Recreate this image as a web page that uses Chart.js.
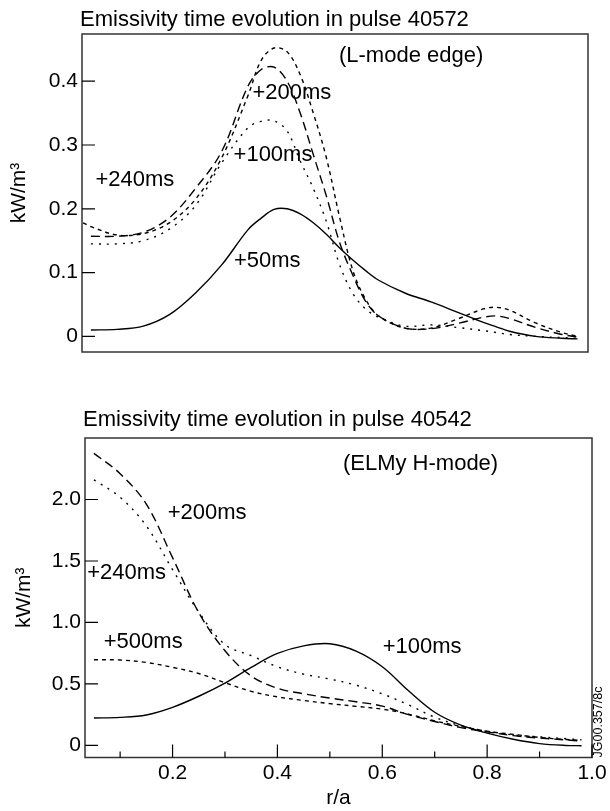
<!DOCTYPE html>
<html>
<head>
<meta charset="utf-8">
<script src="https://cdn.jsdelivr.net/npm/chart.js@4.4.0/dist/chart.umd.min.js"></script>
<style>
  html, body { margin: 0; padding: 0; background: #fff; }
  .panel { position: absolute; left: 0; width: 610px; }
  #topPanel { top: 0; height: 380px; }
  #bottomPanel { top: 400px; height: 411px; }
</style>
</head>
<body>
<div class="panel" id="topPanel"><canvas id="chartTop" width="610" height="380"></canvas></div>
<div class="panel" id="bottomPanel"><canvas id="chartBottom" width="610" height="411"></canvas></div>
<script>
// r/a grid and emissivity (kW/m3)

// pulse 40572, L-mode edge
const rTop = [0.035, 0.05, 0.10, 0.15, 0.20, 0.25, 0.30, 0.35, 0.375, 0.40, 0.425, 0.45, 0.475, 0.50,
  0.525, 0.55, 0.575, 0.60, 0.65, 0.70, 0.75, 0.80, 0.825, 0.85, 0.90, 0.95, 0.98];
const top50ms = [null, 0.010, 0.011, 0.016, 0.034, 0.068, 0.112, 0.167, 0.185, 0.199, 0.200, 0.192, 0.178, 0.160,
  0.139, 0.120, 0.103, 0.088, 0.068, 0.054, 0.038, 0.022, 0.015, 0.008, 0.000, -0.003, -0.004];
const topShortDash = [0.178, 0.172, 0.159, 0.161, 0.178, 0.215, 0.280, 0.377, 0.432, 0.452, 0.446, 0.410, 0.350, 0.280,
  0.188, 0.105, 0.058, 0.032, 0.013, 0.013, 0.027, 0.043, 0.0455, 0.041, 0.021, 0.006, 0.000];
const topLongDash = [null, 0.157, 0.157, 0.163, 0.186, 0.232, 0.290, 0.392, 0.418, 0.422, 0.400, 0.350, 0.285, 0.220,
  0.148, 0.097, 0.055, 0.032, 0.013, 0.012, 0.020, 0.030, 0.032, 0.028, 0.014, 0.003, -0.001];
const topDotted = [null, 0.145, 0.145, 0.150, 0.168, 0.205, 0.272, 0.327, 0.337, 0.338, 0.322, 0.275, 0.232, 0.180,
  0.113, 0.068, 0.043, 0.030, 0.016, 0.018, 0.014, 0.009, 0.006, 0.003, 0.000, -0.002, -0.003];
const yTicksTop = [0, 0.1, 0.2, 0.3, 0.4];
const yTickLabelsTop = ['0', '0.1', '0.2', '0.3', '0.4'];

// pulse 40542, ELMy H-mode
const rBottom = [0.05, 0.10, 0.15, 0.20, 0.25, 0.30, 0.35, 0.40, 0.45, 0.50, 0.55, 0.60, 0.65, 0.70,
  0.75, 0.80, 0.85, 0.90, 0.95, 0.98];
const bot100ms = [0.223, 0.228, 0.248, 0.310, 0.400, 0.507, 0.635, 0.748, 0.810, 0.827, 0.767, 0.640, 0.445, 0.270,
  0.165, 0.100, 0.050, 0.015, 0.000, -0.002];
const bot200ms = [2.375, 2.210, 1.962, 1.527, 1.080, 0.770, 0.565, 0.465, 0.420, 0.385, 0.355, 0.320, 0.250, 0.195,
  0.145, 0.110, 0.080, 0.060, 0.045, 0.035];
const bot240ms = [2.160, 2.018, 1.785, 1.430, 1.085, 0.820, 0.730, 0.640, 0.580, 0.540, 0.490, 0.420, 0.330, 0.230,
  0.160, 0.115, 0.085, 0.070, 0.055, 0.045];
const bot500ms = [0.697, 0.695, 0.675, 0.635, 0.585, 0.510, 0.440, 0.395, 0.366, 0.340, 0.318, 0.295, 0.255, 0.200,
  0.155, 0.115, 0.090, 0.065, 0.048, 0.040];
const yTicksBottom = [0, 0.5, 1.0, 1.5, 2.0];
const yTickLabelsBottom = ['0', '0.5', '1.0', '1.5', '2.0'];
const xTicks = [0.2, 0.4, 0.6, 0.8, 1.0];
const xTickLabels = ['0.2', '0.4', '0.6', '0.8', '1.0'];
const xMinorTicks = [0.1, 0.3, 0.5, 0.7, 0.9];

const X_MIN = 0.033;
const X_MAX = 1.0;
const FONT = "'Liberation Sans', Arial, sans-serif";

// text placed in data units
const notesTop = [
  { text: '(L-mode edge)', r: 0.662, v: 0.440 },
  { text: '+200ms', r: 0.434, v: 0.381 },
  { text: '+100ms', r: 0.398, v: 0.285 },
  { text: '+240ms', r: 0.134, v: 0.2445 },
  { text: '+50ms', r: 0.387, v: 0.1176 },
];
const notesBottom = [
  { text: '(ELMy H-mode)', r: 0.673, v: 2.29 },
  { text: '+200ms', r: 0.266, v: 1.889 },
  { text: '+240ms', r: 0.1125, v: 1.402 },
  { text: '+500ms', r: 0.144, v: 0.841 },
  { text: '+100ms', r: 0.676, v: 0.805 },
];

function pts(xs, ys) {
  return xs.map((x, i) => ({ x, y: ys[i] }));
}

function line(xs, ys, dash) {
  return {
    data: pts(xs, ys),
    borderColor: '#000',
    borderWidth: 1.4,
    borderDash: dash,
    pointRadius: 0,
    tension: 0.35,
    fill: false,
  };
}

// frame, inward tick marks, panel title and labels
function decorPlugin(cfg) {
  return {
    id: 'decor',
    afterDraw(chart) {
      const { ctx, chartArea: a, scales } = chart;
      ctx.save();
      ctx.strokeStyle = '#333';
      ctx.lineWidth = 1.5;
      ctx.strokeRect(a.left, a.top, a.right - a.left, a.bottom - a.top);

      ctx.lineWidth = 1.2;
      ctx.strokeStyle = '#000';
      ctx.beginPath();
      cfg.yTicks.forEach((v) => {
        const y = scales.y.getPixelForValue(v);
        ctx.moveTo(a.left, y);
        ctx.lineTo(a.left + 13, y);
      });
      if (cfg.xTicks) {
        cfg.xTicks.forEach((v) => {
          const x = scales.x.getPixelForValue(v);
          ctx.moveTo(x, a.bottom);
          ctx.lineTo(x, a.bottom - 13);
        });
        cfg.xMinor.forEach((v) => {
          const x = scales.x.getPixelForValue(v);
          ctx.moveTo(x, a.bottom);
          ctx.lineTo(x, a.bottom - 6);
        });
      }
      ctx.stroke();

      ctx.fillStyle = '#000';
      ctx.font = '22px ' + FONT;
      ctx.textBaseline = 'middle';
      ctx.textAlign = 'left';
      ctx.fillText(cfg.title, a.left + cfg.titleDx, a.top + cfg.titleDy);

      ctx.textAlign = 'center';
      cfg.notes.forEach((n) => {
        ctx.fillText(n.text, scales.x.getPixelForValue(n.r), scales.y.getPixelForValue(n.v));
      });

      if (cfg.stamp) {
        ctx.font = '12.5px ' + FONT;
        ctx.translate(a.right + 7, a.bottom - 35.5);
        ctx.rotate(-Math.PI / 2);
        ctx.fillText(cfg.stamp, 0, 0);
      }
      ctx.restore();
    },
  };
}

function yScale(min, max, ticks, labels, width, titlePad) {
  return {
    type: 'linear',
    min,
    max,
    afterFit: (s) => { s.width = width; },
    afterBuildTicks: (s) => { s.ticks = ticks.map((v) => ({ value: v })); },
    grid: { display: false, drawTicks: false },
    border: { display: false },
    ticks: {
      padding: 4,
      color: '#000',
      font: { family: FONT, size: 21 },
      callback: (v, i) => labels[i],
    },
    title: {
      display: true,
      text: 'kW/m³',
      color: '#000',
      font: { family: FONT, size: 21 },
      padding: { top: titlePad, bottom: 0 },
    },
  };
}

new Chart(document.getElementById('chartTop'), {
  type: 'line',
  data: {
    datasets: [
      line(rTop, top50ms, []),
      line(rTop, topShortDash, [4, 4]),
      line(rTop, topLongDash, [9, 5]),
      line(rTop, topDotted, [2, 6]),
    ],
  },
  options: {
    responsive: false,
    animation: false,
    events: [],
    layout: { padding: { top: 34, right: 22, bottom: 28, left: 0 } },
    plugins: { legend: { display: false }, tooltip: { enabled: false } },
    scales: {
      x: { type: 'linear', min: X_MIN, max: X_MAX, display: false },
      y: yScale(-0.0245, 0.474, yTicksTop, yTickLabelsTop, 82, 7),
    },
  },
  plugins: [decorPlugin({
    yTicks: yTicksTop,
    title: 'Emissivity time evolution in pulse 40572',
    titleDx: -2,
    titleDy: -14,
    notes: notesTop,
  })],
});

new Chart(document.getElementById('chartBottom'), {
  type: 'line',
  data: {
    datasets: [
      line(rBottom, bot100ms, []),
      line(rBottom, bot200ms, [9, 5]),
      line(rBottom, bot240ms, [2, 6]),
      line(rBottom, bot500ms, [4, 4]),
    ],
  },
  options: {
    responsive: false,
    animation: false,
    events: [],
    layout: { padding: { top: 38, right: 18, bottom: 0, left: 0 } },
    plugins: { legend: { display: false }, tooltip: { enabled: false } },
    scales: {
      x: {
        type: 'linear',
        min: X_MIN,
        max: X_MAX,
        position: 'bottom',
        afterFit: (s) => { s.height = 53.5; },
        afterBuildTicks: (s) => { s.ticks = xTicks.map((v) => ({ value: v })); },
        grid: { display: false, drawTicks: false },
        border: { display: false },
        ticks: {
          padding: 3,
          maxRotation: 0,
          autoSkip: false,
          color: '#000',
          font: { family: FONT, size: 21 },
          callback: (v, i) => xTickLabels[i],
        },
        title: {
          display: true,
          text: 'r/a',
          color: '#000',
          font: { family: FONT, size: 21 },
          padding: { top: 0, bottom: 0 },
        },
      },
      y: yScale(-0.098, 2.5, yTicksBottom, yTickLabelsBottom, 85, 12),
    },
  },
  plugins: [decorPlugin({
    yTicks: yTicksBottom,
    xTicks,
    xMinor: xMinorTicks,
    title: 'Emissivity time evolution in pulse 40542',
    titleDx: -2,
    titleDy: -18,
    notes: notesBottom,
    stamp: 'JG00.357/8c',
  })],
});
</script>
</body>
</html>
